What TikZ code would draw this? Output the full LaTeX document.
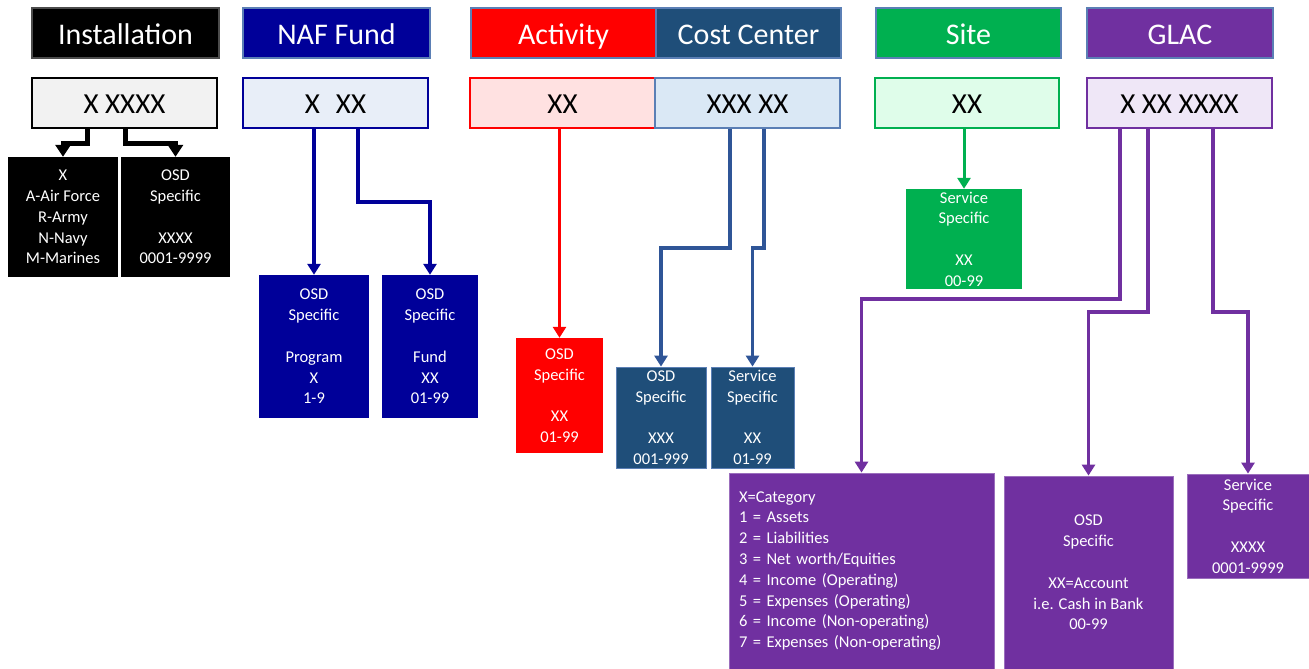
\documentclass[tikz,border=0pt]{standalone}
\usepackage{fontspec}
\setmainfont{Carlito}
\usetikzlibrary{arrows.meta,calc}
\definecolor{navy}{HTML}{000099}
\definecolor{ccdark}{HTML}{1F4E79}
\definecolor{ccline}{HTML}{2F5597}
\definecolor{redc}{HTML}{FF0000}
\definecolor{greenc}{HTML}{00B050}
\definecolor{purplec}{HTML}{7030A0}
\definecolor{hdrborder}{HTML}{5B7FB5}
\definecolor{instlight}{HTML}{F2F2F2}
\definecolor{navlight}{HTML}{E8EEF8}
\definecolor{redlight}{HTML}{FFE1E1}
\definecolor{cclight}{HTML}{DAE8F5}
\definecolor{greenlight}{HTML}{DFFDEA}
\definecolor{purplelight}{HTML}{EFE7F7}
\tikzset{
  hdr/.style={draw=hdrborder, line width=1.2pt, minimum height=50pt, inner sep=0pt, text height=30pt, text depth=6pt, text=white, font=\fontsize{30}{36}\selectfont},
  code/.style={line width=1.6pt, minimum height=50pt, inner sep=0pt, text height=26pt, text depth=6pt, text=black, font=\fontsize{29}{34}\selectfont},
  child/.style={inner sep=0pt, text=white, align=center, font=\fontsize{16.5}{20.8}\selectfont},
  arr/.style={-{Triangle[width=13pt,length=11pt]}, line width=3.5pt},
}
\begin{document}
\begin{tikzpicture}[x=1pt,y=-1pt]
\useasboundingbox (0,0) rectangle (1309,669);
% headers
\node[hdr, fill=black, draw=gray!60!black, minimum width=187pt] (hInst) at (125.5,33) {Installation};
\node[hdr, fill=navy, minimum width=187pt] (hNaf) at (336.5,33) {NAF Fund};
\node[hdr, fill=redc, minimum width=185pt] (hAct) at (563.5,33) {Activity};
\node[hdr, fill=ccdark, minimum width=185pt] (hCC) at (748.5,33) {Cost Center};
\node[hdr, fill=greenc, minimum width=185pt] (hSite) at (968.5,33) {Site};
\node[hdr, fill=purplec, minimum width=186pt] (hGlac) at (1180,33) {GLAC};
% codes
\node[code, fill=instlight, draw=black, minimum width=185pt] (cInst) at (124.5,103) {X XXXX};
\node[code, fill=navlight, draw=navy, minimum width=185pt] (cNaf) at (335.5,103) {X\hspace{0.55em}XX};
\node[code, fill=redlight, draw=redc, minimum width=185pt] (cAct) at (562.5,103) {XX};
\node[code, fill=cclight, draw=hdrborder, minimum width=185pt] (cCC) at (747.5,103) {XXX XX};
\node[code, fill=greenlight, draw=greenc, minimum width=184pt] (cSite) at (967,103) {XX};
\node[code, fill=purplelight, draw=purplec, minimum width=185pt] (cGlac) at (1179.5,103) {X XX XXXX};
% installation children
\node[child, fill=black, minimum width=110pt, minimum height=120pt] (i1) at (63,217) {X\\A-Air Force\\R-Army\\N-Navy\\M-Marines};
\node[child, fill=black, minimum width=109pt, minimum height=120pt] (i2) at (175.5,217) {OSD\\Specific\\[20.8pt]XXXX\\0001-9999};
% NAF children
\node[child, fill=navy, minimum width=110pt, minimum height=143pt] (n1) at (314,346.5) {OSD\\Specific\\[20.8pt]Program\\X\\1-9};
\node[child, fill=navy, minimum width=96pt, minimum height=143pt] (n2) at (430,346.5) {OSD\\Specific\\[20.8pt]Fund\\XX\\01-99};
% activity child
\node[child, fill=redc, minimum width=87pt, minimum height=115pt] (a1) at (559.5,395.5) {OSD\\Specific\\[20.8pt]XX\\01-99};
% cost center children
\node[child, fill=ccdark, draw=hdrborder, line width=0.8pt, minimum width=90pt, minimum height=101pt] (cc1) at (661,417.5) {OSD\\Specific\\[20.8pt]XXX\\001-999};
\node[child, fill=ccdark, draw=hdrborder, line width=0.8pt, minimum width=83pt, minimum height=101pt] (cc2) at (752.5,417.5) {Service\\Specific\\[20.8pt]XX\\01-99};
% site child
\node[child, fill=greenc, minimum width=116pt, minimum height=100pt] (s1) at (964,239) {Service\\Specific\\[20.8pt]XX\\00-99};
% GLAC children
\node[child, fill=purplec, draw=purplec!70!white, line width=0.8pt, minimum width=265pt, minimum height=196pt, text width=245pt, inner xsep=10pt, align=left] (g1) at (861.5,571) {X=Category\\1 = Assets\\2 = Liabilities\\3 = Net worth/Equities\\4 = Income (Operating)\\5 = Expenses (Operating)\\6 = Income (Non-operating)\\7 = Expenses (Non-operating)};
\node[child, fill=purplec, draw=purplec!70!white, line width=0.8pt, minimum width=169pt, minimum height=193pt] (g2) at (1088.5,572.5) {OSD\\Specific\\[20.8pt]XX=Account\\i.e. Cash in Bank\\00-99};
\node[child, fill=purplec, draw=purplec!70!white, line width=0.8pt, minimum width=122pt, minimum height=104pt] (g3) at (1248,526) {Service\\Specific\\[20.8pt]XXXX\\0001-9999};
% connectors
\draw[arr, line width=5pt, -{Triangle[width=15pt,length=12pt]}] ($(cInst.south)+(-37.5,0)$) -- ++(0,15) -| (i1.north);
\draw[arr, line width=5pt, -{Triangle[width=15pt,length=12pt]}] ($(cInst.south)+(0.5,0)$) -- ++(0,15) -| (i2.north);
\draw[arr, navy] (cNaf.south -| n1.north) -- (n1.north);
\draw[arr, navy] ($(cNaf.south)+(22.5,0)$) -- ++(0,73) -| (n2.north);
\draw[arr, redc, line width=3pt] (cAct.south -| a1.north) -- (a1.north);
\draw[arr, ccline] ($(cCC.south)+(-17.5,0)$) -- ++(0,119) -| (cc1.north);
\draw[arr, ccline] ($(cCC.south)+(16.5,0)$) -- ++(0,119) -| (cc2.north);
\draw[arr, greenc, line width=3pt] (cSite.south -| s1.north) -- (s1.north);
\draw[arr, purplec] ($(cGlac.south)+(-59.5,0)$) -- ++(0,170) -| (g1.north);
\draw[arr, purplec] ($(cGlac.south)+(-31.5,0)$) -- ++(0,183) -| (g2.north);
\draw[arr, purplec] ($(cGlac.south)+(33.5,0)$) -- ++(0,183) -| (g3.north);
\end{tikzpicture}
\end{document}
